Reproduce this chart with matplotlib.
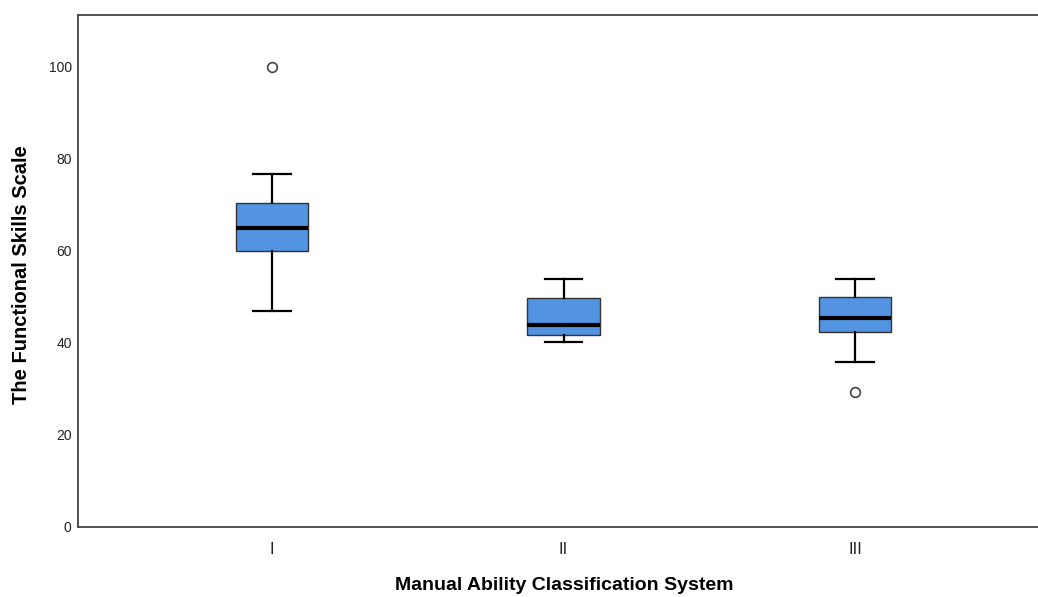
import matplotlib
matplotlib.use("Agg")
import matplotlib.pyplot as plt

categories = ["I", "II", "III"]
whislo = [47.0, 40.2, 35.9]
q1 = [60.0, 41.7, 42.4]
med = [65.0, 43.9, 45.4]
q3 = [70.4, 49.8, 50.0]
whishi = [76.7, 53.9, 53.9]
fliers = [[100.0], [], [29.3]]

plt.rcParams['font.family'] = ['Liberation Sans', 'DejaVu Sans']

fig = plt.figure(figsize=(10.38, 5.97), dpi=100)
ax = fig.add_axes([78/1038, 1-527/597, (1038-78)/1038, (527-15)/597])

stats = []
for i, c in enumerate(categories):
    stats.append(dict(label=c, whislo=whislo[i], q1=q1[i], med=med[i], q3=q3[i],
                      whishi=whishi[i], fliers=fliers[i]))

positions = [1, 2, 3]
ax.bxp(stats, positions=positions, widths=0.247, patch_artist=True,
       boxprops=dict(facecolor='#5294e2', edgecolor='#333333', linewidth=1.0),
       medianprops=dict(color='black', linewidth=3.0, solid_capstyle='butt'),
       whiskerprops=dict(color='black', linewidth=1.6),
       capprops=dict(color='black', linewidth=1.6),
       capwidths=0.127,
       flierprops=dict(marker='o', markersize=7, markerfacecolor='white',
                       markeredgecolor='#444444', markeredgewidth=1.2, linestyle='none'))

ax.set_xlim(1 - 194/291.5, 1 + (1038-272)/291.5)
ax.set_ylim(0, 111.3)
ax.set_yticks([0, 20, 40, 60, 80, 100])
ax.set_xticks(positions)
ax.set_xticklabels(categories)
ax.tick_params(axis='y', length=0, labelsize=10, colors='#222222', pad=4.5)
ax.tick_params(axis='x', length=0, labelsize=12, colors='#222222', pad=11)
for s in ['left', 'bottom', 'top']:
    ax.spines[s].set_color('#444444')
    ax.spines[s].set_linewidth(1.3)
ax.spines['right'].set_visible(False)

fig.text(22/1038, 1-275/597, "The Functional Skills Scale", rotation=90,
         ha='center', va='center', fontsize=14.5, fontweight='bold')
fig.text(564/1038, 1-586/597, "Manual Ability Classification System",
         ha='center', va='center', fontsize=14, fontweight='bold')

fig.savefig("out.png", dpi=100)
